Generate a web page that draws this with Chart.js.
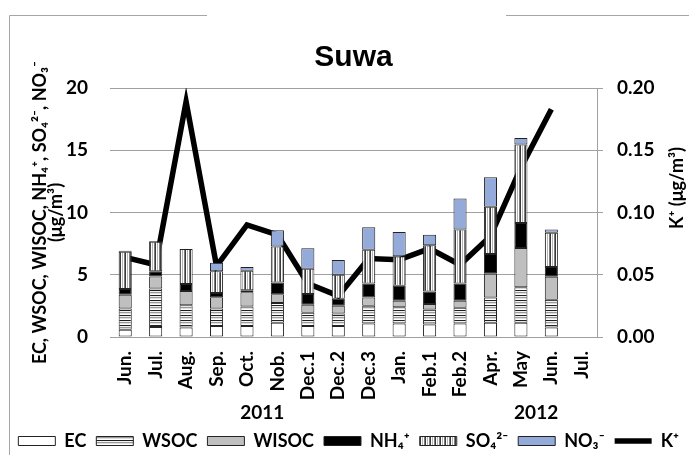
<!DOCTYPE html>
<html>
<head>
<meta charset="utf-8">
<script src="https://cdn.jsdelivr.net/npm/chart.js@4"></script>
<style>
  body { margin: 0; background: #fff; }
  #wrap { width: 689px; height: 455px; position: relative; }
</style>
</head>
<body>
<div id="wrap"><canvas id="suwaChart"></canvas></div>
<script>
const months = ["Jun.", "Jul.", "Aug.", "Sep.", "Oct.", "Nob.", "Dec.1", "Dec.2", "Dec.3",
  "Jan.", "Feb.1", "Feb.2", "Apr.", "May", "Jun.", "Jul."];
const years = ["2011", "2012"];

// stacked components, ug/m3 (bottom to top)
const ec    = [0.58, 0.80, 0.76, 0.89, 0.89, 1.15, 0.89, 0.89, 1.08, 1.08, 1.00, 1.08, 1.15, 1.15, 0.76, null];
const wsoc  = [1.70, 3.10, 1.79, 1.39, 1.55, 1.58, 1.05, 1.00, 1.44, 1.31, 1.20, 1.26, 2.03, 2.84, 2.23, null];
const wisoc = [1.11, 0.95, 1.15, 0.92, 1.16, 0.71, 0.66, 0.63, 0.66, 0.52, 0.45, 0.57, 1.91, 3.15, 1.84, null];
const nh4   = [0.47, 0.44, 0.55, 0.34, 0.15, 0.94, 0.86, 0.55, 1.12, 1.21, 1.00, 1.39, 1.58, 2.02, 0.79, null];
const so4   = [2.99, 2.37, 2.81, 1.74, 1.58, 2.89, 2.03, 1.94, 2.71, 2.36, 3.72, 4.34, 3.80, 6.30, 2.75, null];
const no3   = [0.08, 0.06, 0.00, 0.68, 0.29, 1.31, 1.63, 1.18, 1.81, 1.95, 0.84, 2.49, 2.36, 0.52, 0.27, null];

// K+ on the right axis
const kPlus = [0.064, 0.058, 0.189, 0.057, 0.090, 0.082, 0.043, 0.033, 0.063, 0.062, 0.071, 0.058, 0.081, 0.136, 0.183, null];

const leftTicks = ["0", "5", "10", "15", "20"];
const rightTicks = ["0.00", "0.05", "0.10", "0.15", "0.20"];

const leftTitle = ["EC, WSOC, WISOC, NH₄⁺, SO₄²⁻, NO₃⁻", "(μg/m³)"];
const rightTitle = "K⁺ (μg/m³)";

function stripes(colors, vertical) {
  const c = document.createElement("canvas");
  c.width = vertical ? colors.length : 1;
  c.height = vertical ? 1 : colors.length;
  const g = c.getContext("2d");
  colors.forEach(function (col, i) {
    g.fillStyle = col;
    if (vertical) g.fillRect(i, 0, 1, 1);
    else g.fillRect(0, i, 1, 1);
  });
  return g.createPattern(c, "repeat");
}

const wsocFill = stripes(["#1e1e1e", "#f2f2f2", "#9a9a9a", "#dedede", "#ffffff"], false);
const so4Fill = stripes(["#3a3a3a", "#ffffff", "#b4b4b4", "#ffffff", "#7c7c7c"], true);

const FONT = "Lato, 'Liberation Sans', sans-serif";
Chart.defaults.font.family = FONT;
Chart.defaults.color = "#000";

function bar(label, data, fill) {
  return {
    label: label,
    data: data,
    backgroundColor: fill,
    borderColor: "#222",
    borderWidth: 1,
    borderSkipped: false,
    pointStyle: "rect",
    yAxisID: "y",
    order: 0,
  };
}

const extras = {
  id: "extras",
  afterDraw(chart) {
    const ctx = chart.ctx;
    const x = chart.scales.x;
    ctx.save();
    ctx.strokeStyle = "#a6a6a6";
    ctx.lineWidth = 1;
    ctx.beginPath();
    ctx.moveTo(9.5, 455);
    ctx.lineTo(9.5, 15.5);
    ctx.lineTo(207, 15.5);
    ctx.moveTo(506, 15.5);
    ctx.lineTo(689, 15.5);
    ctx.stroke();

    ctx.fillStyle = "#000";
    ctx.textAlign = "center";
    ctx.textBaseline = "middle";
    ctx.font = "bold 19px " + FONT;
    ctx.fillText(years[0], x.getPixelForValue(4.5), 413);
    ctx.fillText(years[1], x.getPixelForValue(13.5), 413);

    ctx.font = "bold 18px " + FONT;
    ctx.translate(677, 188);
    ctx.rotate(-Math.PI / 2);
    ctx.fillText(rightTitle, 0, 0);
    ctx.restore();
  },
};

new Chart(document.getElementById("suwaChart"), {
  type: "bar",
  data: {
    labels: months,
    datasets: [
      bar("EC", ec, "#ffffff"),
      bar("WSOC", wsoc, wsocFill),
      bar("WISOC", wisoc, "#bfbfbf"),
      bar("NH₄⁺", nh4, "#000000"),
      bar("SO₄²⁻", so4, so4Fill),
      bar("NO₃⁻", no3, "#94abd9"),
      {
        type: "line",
        label: "K⁺",
        data: kPlus,
        yAxisID: "y1",
        borderColor: "#000",
        backgroundColor: "#000",
        borderWidth: 5.5,
        pointRadius: 0,
        pointStyle: "line",
        tension: 0,
        order: 1,
      },
    ],
  },
  options: {
    responsive: true,
    maintainAspectRatio: false,
    animation: false,
    layout: { padding: { bottom: -5 } },
    datasets: { bar: { barPercentage: 0.43, categoryPercentage: 1 } },
    plugins: {
      title: {
        display: true,
        text: "Suwa",
        fullSize: false,
        color: "#000",
        font: { family: "'Liberation Sans', Arial, sans-serif", size: 30, weight: "bold", lineHeight: 1.2 },
        padding: { top: 40, bottom: 12 },
      },
      legend: {
        position: "bottom",
        align: "end",
        labels: {
          usePointStyle: true,
          pointStyleWidth: 37,
          boxHeight: 9,
          padding: 10,
          color: "#000",
          font: { size: 18, weight: "bold" },
        },
      },
      tooltip: { enabled: false },
    },
    scales: {
      x: {
        stacked: true,
        grid: { display: false },
        border: { color: "#a0a0a0" },
        ticks: {
          autoSkip: false,
          minRotation: 90,
          maxRotation: 90,
          padding: 6,
          color: "#000",
          font: { size: 19, weight: "bold" },
        },
        afterFit(s) { s.height = 85; },
      },
      y: {
        stacked: true,
        min: 0,
        max: 20,
        grid: { color: "#a0a0a0", drawTicks: false },
        border: { display: false },
        ticks: {
          stepSize: 5,
          padding: 22,
          color: "#000",
          font: { size: 19, weight: "bold" },
          callback: function (v, i) { return leftTicks[i]; },
        },
        title: {
          display: true,
          text: leftTitle,
          color: "#000",
          font: { size: 18, weight: "bold", lineHeight: 0.9 },
          padding: { top: 32, bottom: 0 },
        },
        afterFit(s) { s.width = 110; },
      },
      y1: {
        position: "right",
        min: 0,
        max: 0.2,
        grid: { drawOnChartArea: false, tickLength: 6, color: "#a0a0a0" },
        border: { color: "#a0a0a0" },
        ticks: {
          stepSize: 0.05,
          padding: 14,
          color: "#000",
          font: { size: 19, weight: "bold" },
          callback: function (v, i) { return rightTicks[i]; },
        },
        afterFit(s) { s.width = 92; },
      },
    },
  },
  plugins: [extras],
});
</script>
</body>
</html>
